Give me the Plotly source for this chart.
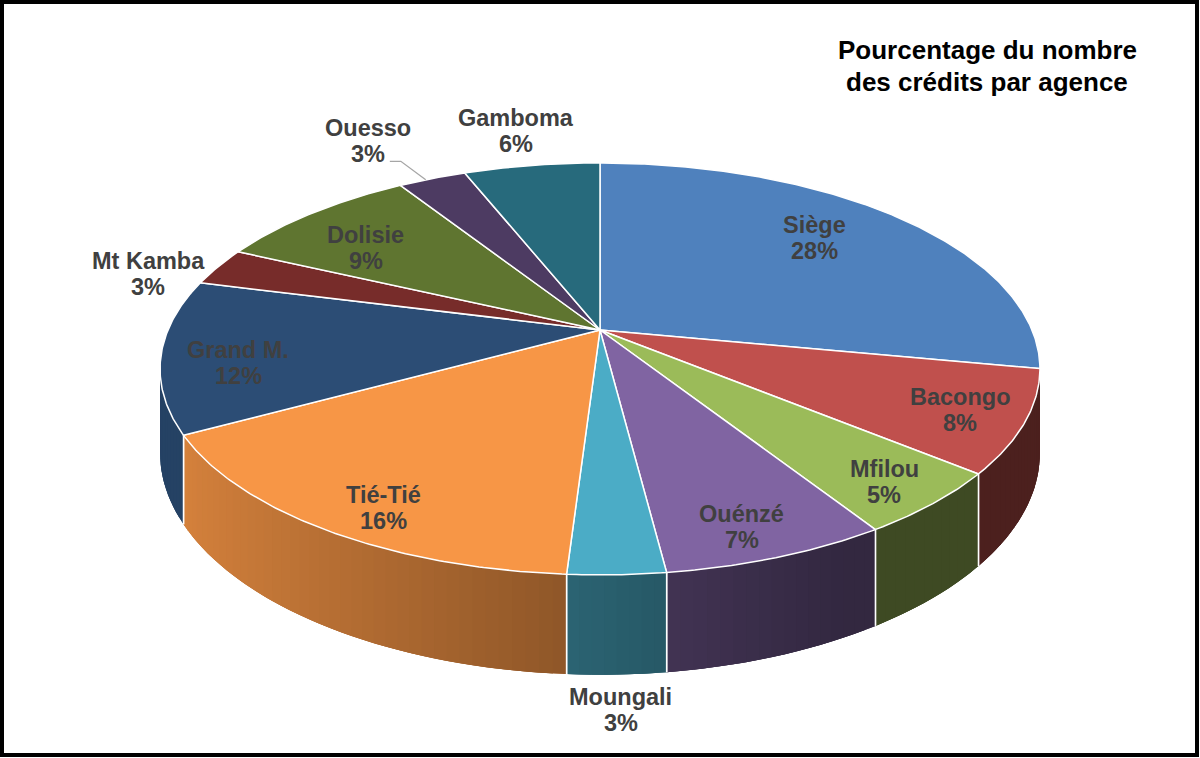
import numpy as np
import plotly.graph_objects as go

# ---- data ----
agences = ["Siège", "Bacongo", "Mfilou", "Ouénzé", "Moungali", "Tié-Tié",
           "Grand M.", "Mt Kamba", "Dolisie", "Ouesso", "Gamboma"]
pourcentages = [28, 8, 5, 7, 3, 16, 12, 3, 9, 3, 6]
titre = ["Pourcentage du nombre", "des crédits par agence"]

# ---- styles ----
top_colors = ["#4F81BD", "#C0504D", "#9BBB59", "#8064A2", "#4BACC6", "#F79646",
              "#2C4D75", "#772C2A", "#5F7530", "#4D3B62", "#276A7C"]
# label placement: (radius factor, dx, dy) in pixel units
label_place = [(0.70, 0, -10), (0.88, -10, 0), (0.88, -3, 2), (0.85, -5, 10),
               (1.00, 4, 0), (0.83, 5, 18), (0.83, 1, 12), (1.12, -27, 14),
               (0.78, -4, 11), (1.30, -23, 0), (1.15, -7, -14)]
label_color = "#404040"
FONT = "Liberation Sans, Arial, sans-serif"

# projection parameters (pixels)
CX, CY = 600.0, 330.0
A, B, K = 432.0, 198.6, 0.189
DEPTH = 81.0


def proj(phi, r=1.0, depth=0.0):
    X = r * np.sin(phi)
    Z = -r * np.cos(phi)
    den = 1 - K * Z
    return CX + A * X / den, CY + (B * Z + depth) / den


def shade(hexcol, f):
    h = hexcol.lstrip("#")
    r, g, b = (int(h[i:i + 2], 16) for i in (0, 2, 4))
    return "rgb(%d,%d,%d)" % (r * f, g * f, b * f)


def wall_poly(p0, p1):
    p = np.linspace(p0, p1, max(3, int((p1 - p0) / np.radians(0.5)) + 2))
    xt, yt = proj(p)
    xb, yb = proj(p[::-1], depth=DEPTH)
    return np.concatenate([xt, xb, xt[:1]]), np.concatenate([yt, yb, yt[:1]])


def fshade(xm):
    return float(np.clip(0.56 - 0.345 * xm, 0.40, 0.86))


fig = go.Figure()

vals = np.array(pourcentages, dtype=float)
cum = np.concatenate([[0], np.cumsum(vals)]) / vals.sum() * 2 * np.pi
starts, ends = cum[:-1], cum[1:]

# visible wall range (silhouette points)
phiR = np.arccos(-K)
phiL = 2 * np.pi - phiR

# ---- walls ----
step = np.radians(1.5)
for i in range(len(vals)):
    a0, a1 = max(starts[i], phiR), min(ends[i], phiL)
    if a1 <= a0:
        continue
    xs, ys = wall_poly(a0, a1)
    col = shade(top_colors[i], fshade(np.sin((a0 + a1) / 2)))
    fig.add_trace(go.Scatter(x=xs, y=ys, mode="lines", fill="toself", fillcolor=col,
                             line=dict(width=0), hoverinfo="skip", showlegend=False))
    n = max(1, int(np.ceil((a1 - a0) / step)))
    edges = np.linspace(a0, a1, n + 1)
    for j in range(n):
        e1 = edges[min(j + 2, n)]
        xs, ys = wall_poly(edges[j], e1)
        col = shade(top_colors[i], fshade(np.sin((edges[j] + edges[j + 1]) / 2)))
        fig.add_trace(go.Scatter(x=xs, y=ys, mode="lines", fill="toself", fillcolor=col,
                                 line=dict(width=0), hoverinfo="skip", showlegend=False))
    for ang in (starts[i], ends[i]):
        if phiR < ang < phiL:
            x0, y0 = proj(ang)
            x1, y1 = proj(ang, depth=DEPTH)
            fig.add_trace(go.Scatter(x=[x0, x1], y=[y0, y1], mode="lines",
                                     line=dict(color="white", width=1.5),
                                     hoverinfo="skip", showlegend=False))

# ---- top faces ----
for i in range(len(vals)):
    p = np.linspace(starts[i], ends[i], max(8, int((ends[i] - starts[i]) / np.radians(0.5))))
    xa, ya = proj(p)
    xs = np.concatenate([[CX], xa, [CX]])
    ys = np.concatenate([[CY], ya, [CY]])
    fig.add_trace(go.Scatter(x=xs, y=ys, mode="lines", fill="toself",
                             fillcolor=top_colors[i],
                             line=dict(color="white", width=1.5),
                             name=agences[i], hoverinfo="skip", showlegend=False))

# ---- labels ----
for i in range(len(vals)):
    r, dx, dy = label_place[i]
    mid = (starts[i] + ends[i]) / 2
    if agences[i] == "Moungali":
        x, y = proj(mid, 1.0, DEPTH)
        y += 35
    else:
        x, y = proj(mid, r)
    x += dx
    y += dy
    fig.add_annotation(x=x, y=y - 13, text="<b>%s</b>" % agences[i], showarrow=False,
                       font=dict(family=FONT, size=23.5, color=label_color),
                       xanchor="center", yanchor="middle")
    fig.add_annotation(x=x, y=y + 13, text="<b>%d%%</b>" % pourcentages[i], showarrow=False,
                       font=dict(family=FONT, size=23.5, color=label_color),
                       xanchor="center", yanchor="middle")
    if agences[i] == "Ouesso":
        ex, ey = proj(starts[i] + 0.4 * (ends[i] - starts[i]))
        fig.add_trace(go.Scatter(x=[x + 22, x + 33, ex], y=[y + 20, y + 20, ey],
                                 mode="lines", line=dict(color="#A6A6A6", width=1.3),
                                 hoverinfo="skip", showlegend=False))

# ---- title ----
for k, line in enumerate(titre):
    fig.add_annotation(x=987, y=50 + 32 * k, text="<b>%s</b>" % line, showarrow=False,
                       font=dict(family=FONT, size=26, color="black"),
                       xanchor="center", yanchor="middle")

# frame
fig.add_shape(type="rect", x0=2, y0=2, x1=1197, y1=755, line=dict(color="black", width=4))

fig.update_xaxes(range=[0, 1200], visible=False, fixedrange=True)
fig.update_yaxes(range=[758, 0], visible=False, fixedrange=True)
fig.update_layout(width=1200, height=758, margin=dict(l=0, r=0, t=0, b=0),
                  paper_bgcolor="white", plot_bgcolor="white", showlegend=False)
fig.write_html("out.html", config={"displayModeBar": False},
               post_script="document.body.style.margin='0';document.body.style.overflow='hidden';")
